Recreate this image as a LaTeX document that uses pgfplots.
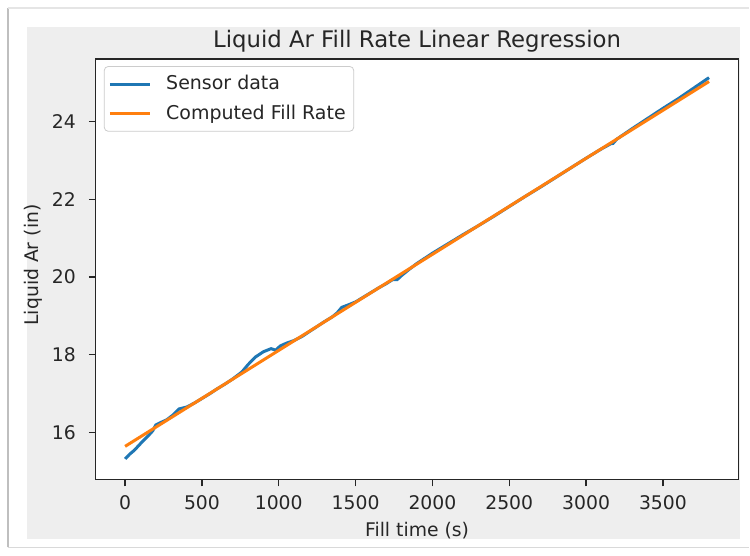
\documentclass[border=0pt]{standalone}
\usepackage{pgfplots}
\pgfplotsset{compat=1.18}
\usepackage{fontspec}
\setmainfont{DejaVu Sans}

\definecolor{mplblue}{HTML}{1F77B4}
\definecolor{mplorange}{HTML}{FF7F0E}
\definecolor{figbg}{HTML}{EEEEEE}
\definecolor{txt}{HTML}{262626}

\begin{document}
\begin{tikzpicture}
% screenshot frame, in pixels of the original (0.5pt each)
\begin{scope}[x=0.5pt,y=0.5pt]
  \fill[white] (0,0) rectangle (750,556);
  \draw[black!25, line width=1pt] (8,8) -- (8,548);
  \draw[black!15, line width=0.8pt] (8,8) -- (750,8);
  \draw[black!10, line width=0.6pt] (8,548) -- (750,548);
  \fill[figbg] (27,16) rectangle (741,529);
\end{scope}
\useasboundingbox (0,0) rectangle (375pt,278pt);
\begin{axis}[
  at={(48pt,38pt)}, anchor=south west,
  scale only axis, width=321.5pt, height=210.5pt,
  axis background/.style={fill=white},
  axis line style={black!85, line width=0.6pt},
  xmin=-190, xmax=3990, ymin=14.8, ymax=25.6,
  xtick={0,500,...,3500}, ytick={16,18,20,22,24},
  tick align=outside, tick pos=left,
  major tick length=3.5pt,
  every tick/.style={black!85, line width=0.6pt},
  /pgf/number format/assume math mode=true,
  /pgf/number format/1000 sep={},
  ticklabel style={font=\fontsize{9.4}{11}\selectfont, text=txt},
  xticklabel style={yshift=-1pt},
  yticklabel style={xshift=-3pt},
  title={Liquid Ar Fill Rate Linear Regression},
  title style={font=\fontsize{11.4}{13}\selectfont, text=txt, at={(0.5,1)}, anchor=center, yshift=3pt},
  xlabel={Fill time (s)},
  ylabel={Liquid Ar (in)},
  every axis x label/.style={at={(axis description cs:0.5,0)}, anchor=center, yshift=-25.5pt, font=\fontsize{9.4}{11}\selectfont, text=txt},
  every axis y label/.style={at={(axis description cs:-0.097,0.51)}, anchor=center, rotate=90, font=\fontsize{9.4}{11}\selectfont, text=txt},
  legend style={at={(0.0124,0.983)}, anchor=north west, draw=black!20, rounded corners=2pt,
    fill=white, font=\fontsize{9.5}{11}\selectfont, text=txt, inner xsep=2pt, inner ysep=2.5pt,
    row sep=2pt, /tikz/every odd column/.append style={column sep=5.5pt}},
  legend cell align=left,
  legend image code/.code={\draw[#1] (0pt,0pt) -- (20pt,0pt);},
]
\addplot[mplblue, line width=1.5pt] coordinates {
(0,15.33) (30,15.45) (60,15.55) (100,15.72) (150,15.92) (180,16.05) (200,16.2)
(230,16.26) (270,16.33) (310,16.45) (350,16.61) (400,16.66) (450,16.76)
(500,16.88) (550,17.0) (600,17.13) (650,17.25) (700,17.38) (760,17.56)
(800,17.75) (850,17.95) (900,18.08) (950,18.16) (980,18.12) (1010,18.23)
(1050,18.3) (1100,18.37) (1150,18.47) (1200,18.6) (1250,18.73) (1300,18.86)
(1350,18.98) (1380,19.08) (1410,19.22) (1450,19.28) (1500,19.36) (1550,19.48)
(1600,19.6) (1650,19.72) (1700,19.83) (1740,19.93) (1770,19.93) (1800,20.04)
(1850,20.2) (1900,20.35) (1950,20.48) (2000,20.61) (2100,20.85) (2200,21.09)
(2300,21.32) (2400,21.56) (2500,21.81) (2600,22.06) (2700,22.3) (2800,22.55)
(2900,22.8) (3000,23.05) (3100,23.29) (3160,23.42) (3175,23.43) (3200,23.54)
(3300,23.81) (3400,24.07) (3500,24.33) (3600,24.58) (3700,24.85) (3800,25.12)
};
\addlegendentry{Sensor data}
\addplot[mplorange, line width=1.5pt] coordinates {
(0,15.65) (3800,25.02)
};
\addlegendentry{Computed Fill Rate}
\end{axis}
\end{tikzpicture}
\end{document}
